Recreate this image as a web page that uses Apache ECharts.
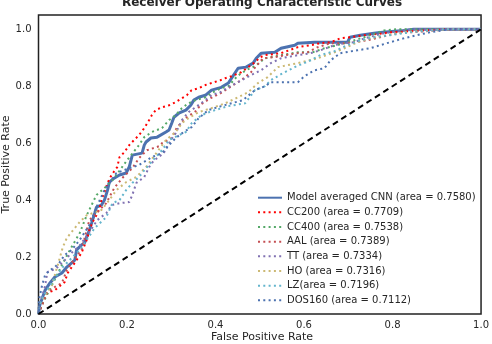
<!DOCTYPE html>
<html>
<head>
<meta charset="utf-8">
<script src="https://cdn.jsdelivr.net/npm/echarts@6/dist/echarts.min.js"></script>
<style>
html,body{margin:0;padding:0;background:#fff;}
#chart{width:492px;height:344px;}
</style>
</head>
<body>
<div id="chart"></div>
<script>
// ---- Data ----
const seriesNames = [
  "Model averaged CNN (area = 0.7580)",
  "CC200 (area = 0.7709)",
  "CC400 (area = 0.7538)",
  "AAL (area = 0.7389)",
  "TT (area = 0.7334)",
  "HO (area = 0.7316)",
  "LZ(area = 0.7196)",
  "DOS160 (area = 0.7112)"
];

const cnnFpr = [0,0.003,0.015,0.026,0.037,0.053,0.064,0.082,0.086,0.097,0.104,0.115,0.12,0.127,0.131,0.142,0.149,0.156,0.16,0.171,0.183,0.198,0.205,0.212,0.234,0.239,0.243,0.254,0.268,0.288,0.295,0.301,0.306,0.317,0.333,0.344,0.351,0.362,0.377,0.391,0.413,0.429,0.445,0.451,0.469,0.485,0.492,0.503,0.534,0.548,0.579,0.586,0.624,0.698,0.704,0.727,0.758,0.772,0.825,0.848,1];
const cnnTpr = [0,0.032,0.084,0.109,0.13,0.144,0.165,0.189,0.225,0.242,0.249,0.295,0.319,0.354,0.375,0.382,0.4,0.435,0.463,0.477,0.488,0.495,0.516,0.558,0.565,0.593,0.604,0.618,0.621,0.639,0.646,0.67,0.691,0.705,0.716,0.733,0.751,0.761,0.768,0.786,0.796,0.811,0.849,0.863,0.867,0.881,0.898,0.916,0.919,0.933,0.944,0.951,0.954,0.954,0.972,0.979,0.986,0.989,0.996,1,1];

const cc200Fpr = [0,0.01,0.019,0.037,0.059,0.066,0.086,0.097,0.109,0.115,0.122,0.131,0.138,0.142,0.149,0.156,0.165,0.178,0.183,0.194,0.205,0.216,0.227,0.239,0.25,0.256,0.265,0.279,0.295,0.31,0.324,0.335,0.346,0.362,0.377,0.391,0.411,0.422,0.436,0.458,0.474,0.489,0.501,0.512,0.548,0.586,0.615,0.637,0.66,0.682,0.704,0.736,0.758,0.794,0.839,0.928,1];
const cc200Tpr = [0,0.039,0.074,0.084,0.112,0.144,0.189,0.214,0.26,0.295,0.323,0.347,0.372,0.4,0.428,0.46,0.488,0.516,0.551,0.568,0.593,0.611,0.628,0.653,0.681,0.698,0.716,0.726,0.733,0.744,0.758,0.768,0.786,0.793,0.804,0.811,0.821,0.828,0.835,0.849,0.867,0.884,0.902,0.909,0.916,0.937,0.944,0.951,0.954,0.968,0.972,0.979,0.982,0.989,0.993,1,1];

const cc400Fpr = [0,0.01,0.03,0.053,0.071,0.093,0.109,0.131,0.149,0.171,0.2,0.227,0.239,0.256,0.279,0.295,0.31,0.324,0.339,0.355,0.377,0.395,0.413,0.429,0.445,0.458,0.474,0.489,0.512,0.548,0.586,0.619,0.646,0.675,0.713,0.736,0.781,0.81,1];
const cc400Tpr = [0,0.039,0.1,0.172,0.225,0.284,0.347,0.418,0.442,0.477,0.54,0.593,0.621,0.639,0.653,0.681,0.698,0.723,0.74,0.751,0.761,0.779,0.793,0.8,0.828,0.846,0.86,0.87,0.898,0.909,0.919,0.919,0.933,0.944,0.961,0.972,0.996,1,1];

const aalFpr = [0,0.008,0.019,0.037,0.053,0.064,0.082,0.097,0.115,0.133,0.153,0.171,0.189,0.212,0.227,0.245,0.272,0.279,0.301,0.313,0.335,0.355,0.368,0.389,0.411,0.429,0.458,0.48,0.492,0.507,0.534,0.557,0.586,0.608,0.631,0.66,0.691,0.713,0.742,0.772,0.81,0.839,0.899,0.928,1];
const aalTpr = [0,0.032,0.074,0.095,0.109,0.154,0.196,0.225,0.33,0.358,0.389,0.442,0.477,0.512,0.547,0.575,0.589,0.6,0.618,0.656,0.691,0.712,0.737,0.758,0.775,0.793,0.821,0.849,0.87,0.898,0.902,0.909,0.916,0.919,0.937,0.951,0.951,0.954,0.961,0.972,0.986,0.989,0.996,1,1];

const ttFpr = [0,0.003,0.015,0.02,0.04,0.06,0.075,0.093,0.115,0.133,0.153,0.165,0.183,0.205,0.212,0.221,0.239,0.25,0.261,0.272,0.284,0.299,0.31,0.324,0.339,0.355,0.377,0.391,0.411,0.429,0.451,0.467,0.48,0.503,0.525,0.548,0.586,0.615,0.637,0.669,0.691,0.713,0.736,0.781,0.825,0.848,1];
const ttTpr = [0,0.03,0.1,0.147,0.16,0.19,0.215,0.24,0.288,0.33,0.354,0.382,0.389,0.393,0.418,0.46,0.481,0.516,0.54,0.551,0.568,0.611,0.635,0.681,0.709,0.726,0.751,0.768,0.779,0.796,0.814,0.828,0.839,0.856,0.881,0.898,0.909,0.916,0.926,0.944,0.951,0.954,0.968,0.986,0.996,1,1];

const hoFpr = [0,0.001,0.015,0.03,0.045,0.055,0.064,0.093,0.109,0.142,0.16,0.176,0.198,0.221,0.243,0.261,0.288,0.31,0.324,0.339,0.362,0.391,0.422,0.451,0.474,0.496,0.518,0.541,0.586,0.631,0.669,0.691,0.72,0.749,0.787,0.825,0.884,0.928,1];
const hoTpr = [0,0.032,0.067,0.1,0.18,0.235,0.267,0.323,0.347,0.365,0.4,0.435,0.463,0.481,0.516,0.554,0.611,0.639,0.67,0.688,0.709,0.723,0.74,0.761,0.779,0.811,0.832,0.867,0.881,0.898,0.919,0.933,0.954,0.968,0.979,0.989,0.996,1,1];

const lzFpr = [0,0.003,0.01,0.026,0.037,0.055,0.077,0.093,0.109,0.127,0.153,0.167,0.183,0.198,0.212,0.227,0.243,0.265,0.279,0.295,0.317,0.333,0.346,0.368,0.391,0.429,0.467,0.489,0.512,0.525,0.548,0.579,0.615,0.637,0.669,0.698,0.727,0.758,0.794,0.839,0.884,0.922,1];
const lzTpr = [0,0.032,0.06,0.1,0.126,0.165,0.2,0.225,0.26,0.302,0.34,0.389,0.4,0.435,0.46,0.481,0.512,0.551,0.575,0.611,0.628,0.639,0.67,0.698,0.712,0.73,0.74,0.786,0.8,0.821,0.842,0.867,0.891,0.909,0.923,0.944,0.961,0.972,0.979,0.989,0.996,1,1];

const dosFpr = [0,0.001,0.008,0.015,0.026,0.037,0.048,0.059,0.075,0.093,0.115,0.133,0.149,0.165,0.176,0.205,0.227,0.256,0.279,0.295,0.31,0.328,0.346,0.362,0.384,0.413,0.436,0.462,0.489,0.512,0.525,0.586,0.601,0.624,0.646,0.66,0.682,0.72,0.749,0.787,0.825,0.854,0.884,0.928,1];
const dosTpr = [0,0.049,0.1,0.137,0.154,0.165,0.182,0.207,0.225,0.26,0.312,0.382,0.435,0.47,0.495,0.512,0.523,0.551,0.565,0.593,0.618,0.639,0.656,0.688,0.716,0.73,0.74,0.751,0.786,0.8,0.814,0.814,0.835,0.856,0.863,0.891,0.916,0.926,0.933,0.951,0.968,0.979,0.989,1,1];

const chanceFpr = [0, 1];
const chanceTpr = [0, 1];

const xTicks = [0, 0.2, 0.4, 0.6, 0.8, 1.0];
const yTicks = [0, 0.2, 0.4, 0.6, 0.8, 1.0];

// ---- Build chart ----
function pairs(xs, ys) {
  const n = Math.min(xs.length, ys.length);
  const out = [];
  for (let i = 0; i < n; i++) out.push([xs[i], ys[i]]);
  return out;
}

const FONT = "DejaVu Sans";
const DOT = [2, 3.3];

const curveDefs = [
  { fpr: cnnFpr, tpr: cnnTpr, color: "#4C72B0", width: 3, type: "solid" },
  { fpr: cc200Fpr, tpr: cc200Tpr, color: "#FF0000", width: 2, type: DOT },
  { fpr: cc400Fpr, tpr: cc400Tpr, color: "#55A868", width: 2, type: DOT },
  { fpr: aalFpr, tpr: aalTpr, color: "#C44E52", width: 2, type: DOT },
  { fpr: ttFpr, tpr: ttTpr, color: "#8172B2", width: 2, type: DOT },
  { fpr: hoFpr, tpr: hoTpr, color: "#CCB974", width: 2, type: DOT },
  { fpr: lzFpr, tpr: lzTpr, color: "#64B5CD", width: 2, type: DOT },
  { fpr: dosFpr, tpr: dosTpr, color: "#4C72B0", width: 2, type: DOT }
];

const series = curveDefs.map((d, i) => ({
  name: seriesNames[i],
  type: "line",
  data: pairs(d.fpr, d.tpr),
  showSymbol: false,
  symbol: "none",
  color: d.color,
  lineStyle: { color: d.color, width: d.width, type: d.type },
  itemStyle: { color: d.color },
  z: 2 + i,
  silent: true
}));

series.push({
  name: "chance",
  type: "line",
  data: pairs(chanceFpr, chanceTpr),
  showSymbol: false,
  symbol: "none",
  lineStyle: { color: "#000", width: 2, type: [6, 4] },
  z: 20,
  silent: true
});

const chart = echarts.init(document.getElementById("chart"), null, { renderer: "canvas" });
chart.setOption({
  animation: false,
  backgroundColor: "#fff",
  grid: {
    left: 38.5, right: 7, top: 15, bottom: 30,
    containLabel: false,
    show: true,
    borderColor: "#222",
    borderWidth: 1.5,
    backgroundColor: "transparent"
  },
  graphic: [
    {
      type: "text", x: 262, y: 3, z: 100,
      style: {
        text: "Receiver Operating Characteristic Curves",
        fontFamily: FONT, fontSize: 12, fontWeight: "bold",
        fill: "#262626", align: "center", verticalAlign: "middle"
      }
    },
    {
      type: "text", x: 6, y: 164.5, rotation: Math.PI / 2, z: 100,
      style: {
        text: "True Positive Rate",
        fontFamily: FONT, fontSize: 11,
        fill: "#262626", align: "center", verticalAlign: "middle"
      }
    },
    {
      type: "text", x: 262, y: 337.5, z: 100,
      style: {
        text: "False Positive Rate",
        fontFamily: FONT, fontSize: 11,
        fill: "#262626", align: "center", verticalAlign: "middle"
      }
    }
  ],
  legend: {
    data: seriesNames,
    orient: "vertical",
    left: 257,
    top: 191.7,
    padding: 0,
    itemWidth: 24,
    itemHeight: 12,
    itemGap: 2.66,
    itemStyle: { opacity: 0, borderWidth: 0 },
    textStyle: { fontFamily: FONT, fontSize: 10, color: "#262626", lineHeight: 12 },
    selectedMode: false
  },
  xAxis: {
    type: "value",
    min: 0, max: 1, interval: 0.2,
    axisLine: { show: false },
    axisTick: { show: false },
    splitLine: { show: false },
    axisLabel: {
      margin: 6,
      fontFamily: FONT, fontSize: 10, color: "#262626",
      formatter: v => xTicks.some(t => Math.abs(t - v) < 1e-6) ? v.toFixed(1) : ""
    }
  },
  yAxis: {
    type: "value",
    min: 0, max: 1.05, interval: 0.2,
    axisLine: { show: false },
    axisTick: { show: false },
    splitLine: { show: false },
    axisLabel: {
      margin: 7,
      showMaxLabel: false,
      fontFamily: FONT, fontSize: 10, color: "#262626",
      formatter: v => yTicks.some(t => Math.abs(t - v) < 1e-6) ? v.toFixed(1) : ""
    }
  },
  series: series
});
</script>
</body>
</html>
